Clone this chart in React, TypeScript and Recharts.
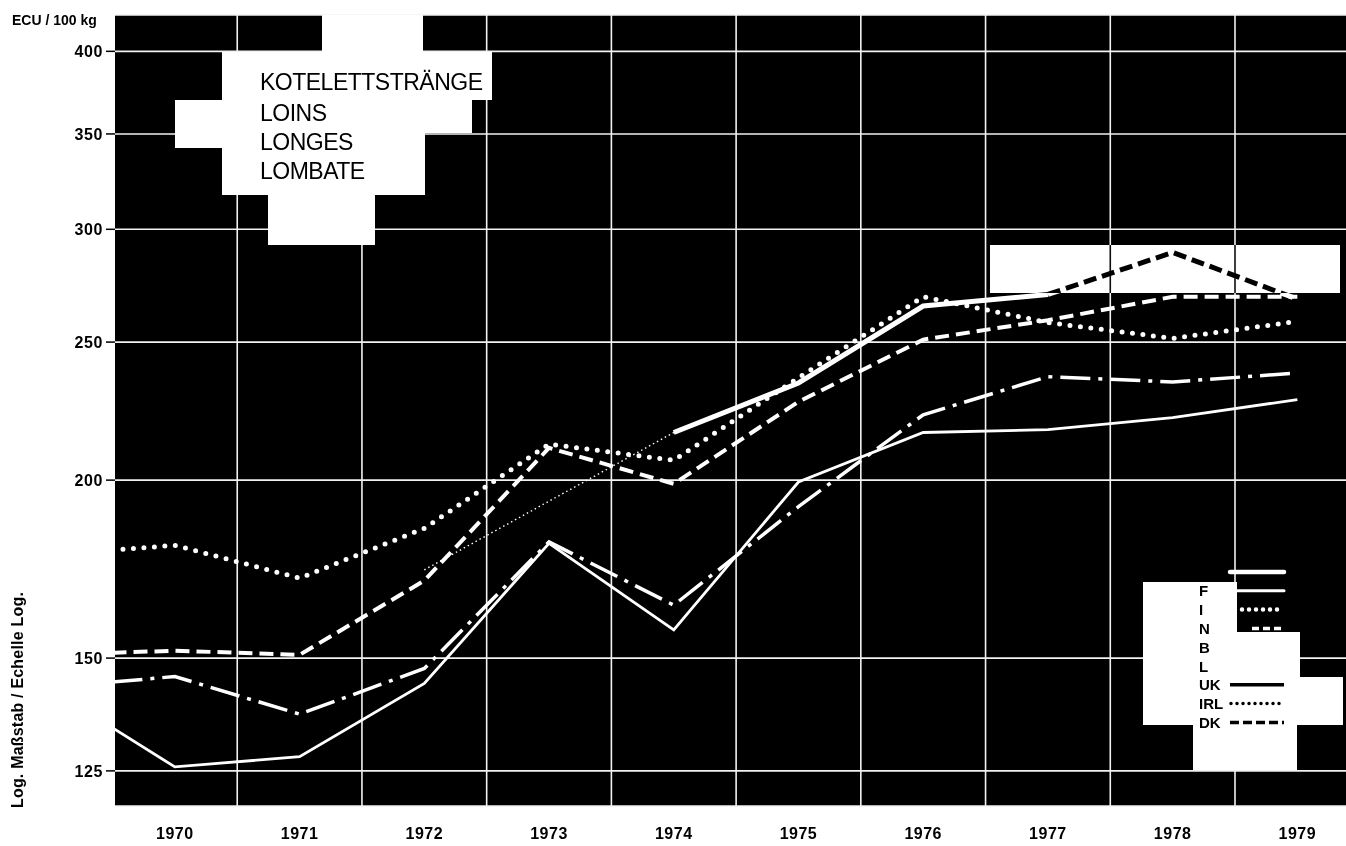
import React from 'react';
import { LineChart, Line, XAxis, YAxis, CartesianGrid } from 'recharts';

// years (first entry = value at the left edge of the frame)
const years = [1969.5, 1970, 1971, 1972, 1973, 1974, 1975, 1976, 1977, 1978, 1979];
const tickYears = [1970, 1971, 1972, 1973, 1974, 1975, 1976, 1977, 1978, 1979];
const gridYears = [1970.5, 1971.5, 1972.5, 1973.5, 1974.5, 1975.5, 1976.5, 1977.5, 1978.5];
const yTicks = [125, 150, 200, 250, 300, 350, 400];

// ECU / 100 kg
const valuesD = [null, null, null, 173, null, 216, 234, 265, 270, null, null];
const valuesDK = [null, null, null, null, null, null, null, null, 270, 289, 268];
const valuesF = [134, 125.8, 127.9, 144, 180.6, 157, 199.4, 216, 217, 221.3, 227.8];
const valuesI = [178.6, 180, 170.7, 185, 212, 206.5, 236, 269, 258, 251.5, 258.5];
const valuesN = [151.3, 151.8, 150.8, 170, 210.7, 198.8, 227, 251, 259, 269, 269];
const valuesB = [144.3, 145.6, 137, 147.5, 181, 163.4, 191.6, 222.3, 236.4, 234.4, 237.8];

const legendLabels = ['', 'F', 'I', 'N', 'B', 'L', 'UK', 'IRL', 'DK'];
const titleLines = ['KOTELETTSTRÄNGE', 'LOINS', 'LONGES', 'LOMBATE'];

const data = years.map((year, i) => ({
  year,
  D: valuesD[i],
  DK: valuesDK[i],
  F: valuesF[i],
  I: valuesI[i],
  N: valuesN[i],
  B: valuesB[i],
}));

const FONT = '"Liberation Sans", Arial, Helvetica, sans-serif';

// white patches of the scan (x1, y1, x2, y2)
const titleBlob = [
  [322, 15, 423, 52],
  [222, 52, 492, 100],
  [175, 100, 472, 133],
  [175, 133, 425, 148],
  [222, 148, 425, 195],
  [268, 195, 375, 245],
];
const legendBlob = [
  [1143, 582, 1237, 725],
  [1237, 632, 1300, 677],
  [1143, 677, 1343, 725],
  [1193, 725, 1297, 770],
];

// legend line samples: colour, width, dash, start x
const legendSamples = [
  { color: '#fff', w: 4.5, dash: undefined, x0: 1230, cap: 'round' },
  { color: '#fff', w: 3, dash: undefined, x0: 1237, cap: 'round' },
  { color: '#fff', w: 4.5, dash: '0 7', x0: 1242, cap: 'round' },
  { color: '#fff', w: 3.5, dash: '7 4', x0: 1252, cap: 'butt' },
  null,
  null,
  { color: '#000', w: 3.5, dash: undefined, x0: 1230, cap: 'butt' },
  { color: '#000', w: 3.5, dash: '0 6', x0: 1231, cap: 'round' },
  { color: '#000', w: 3.5, dash: '9 4', x0: 1230, cap: 'butt' },
];

const App: React.FC = () => {
  const rowY = (i: number) => 572 + i * 18.8;

  return (
    <div style={{ position: 'absolute', left: 0, top: 0, width: 1346, height: 846, overflow: 'hidden', background: '#fff', fontFamily: FONT }}>
      <LineChart width={1346} height={846} data={data} margin={{ top: 15, right: 0, left: 0, bottom: 0 }}>
        <CartesianGrid fill="#000" stroke="#f2f2f2" strokeWidth={1.6} verticalValues={gridYears} />
        <XAxis
          dataKey="year"
          type="number"
          domain={[1969.52, 1979.39]}
          allowDataOverflow
          ticks={tickYears}
          interval={0}
          height={40}
          axisLine={false}
          tickLine={false}
          tickSize={0}
          tickMargin={22}
          tick={{ fill: '#000', fontSize: 16, fontWeight: 700, fontFamily: FONT, letterSpacing: 0.5 }}
        />
        <YAxis
          type="number"
          scale="log"
          domain={[118.1, 424.2]}
          allowDataOverflow
          ticks={yTicks}
          interval={0}
          width={115}
          axisLine={false}
          tickLine={{ stroke: '#000', strokeWidth: 1.5 }}
          tickSize={9}
          tickMargin={3}
          tick={{ fill: '#000', fontSize: 16, fontWeight: 700, fontFamily: FONT, letterSpacing: 0.6 }}
        />
        <Line type="linear" dataKey="B" stroke="#fff" strokeWidth={3.5} strokeDasharray="30 8 4 8" dot={false} activeDot={false} isAnimationActive={false} />
        <Line type="linear" dataKey="F" stroke="#fff" strokeWidth={2.8} dot={false} activeDot={false} isAnimationActive={false} />
        <Line type="linear" dataKey="N" stroke="#fff" strokeWidth={4} strokeDasharray="14 7" dot={false} activeDot={false} isAnimationActive={false} />
        <Line type="linear" dataKey="I" stroke="#fff" strokeWidth={5} strokeDasharray="0 10.5" strokeLinecap="round" dot={false} activeDot={false} isAnimationActive={false} />
        <Line type="linear" dataKey="D" connectNulls stroke="#fff" strokeWidth={1.4} strokeDasharray="1.5 3" dot={false} activeDot={false} isAnimationActive={false} />
        <Line type="linear" dataKey="D" stroke="#fff" strokeWidth={5} dot={false} activeDot={false} isAnimationActive={false} />
        <Line type="linear" dataKey="DK" stroke="#fff" strokeWidth={5} strokeDasharray="13 6" dot={false} activeDot={false} isAnimationActive={false} />
      </LineChart>

      <svg width={1346} height={846} style={{ position: 'absolute', left: 0, top: 0, pointerEvents: 'none' }}>
        {titleBlob.concat(legendBlob).map(([x1, y1, x2, y2], i) => (
          <rect key={`blob-${i}`} x={x1} y={y1} width={x2 - x1} height={y2 - y1} fill="#fff" />
        ))}
        {titleLines.map((t, i) => (
          <text key={t} x={260} y={[90, 121, 150, 178.5][i]} fontSize={23} letterSpacing={-0.5} fill="#000" fontFamily={FONT}>
            {t}
          </text>
        ))}
        <text x={12} y={25} fontSize={14} fontWeight={700} fill="#000" fontFamily={FONT}>
          ECU / 100 kg
        </text>
        <text x={23} y={700} transform="rotate(-90 23 700)" textAnchor="middle" fontSize={16} fontWeight={700} letterSpacing={0.2} fill="#000" fontFamily={FONT}>
          Log. Maßstab / Echelle Log.
        </text>
        {legendLabels.map((label, i) => (
          <g key={`leg-${i}`}>
            {label ? (
              <text x={1199} y={rowY(i) + 5.5} fontSize={15} fontWeight={700} fill="#000" fontFamily={FONT}>
                {label}
              </text>
            ) : null}
            {legendSamples[i] ? (
              <line
                x1={legendSamples[i]!.x0}
                x2={1284}
                y1={rowY(i)}
                y2={rowY(i)}
                stroke={legendSamples[i]!.color}
                strokeWidth={legendSamples[i]!.w}
                strokeDasharray={legendSamples[i]!.dash}
                strokeLinecap={legendSamples[i]!.cap as any}
              />
            ) : null}
          </g>
        ))}
      </svg>

      {/* inverted patch: white paper where the lines show black */}
      <div style={{ position: 'absolute', left: 990, top: 245, width: 350, height: 48, background: '#fff', mixBlendMode: 'difference', pointerEvents: 'none' }} />
    </div>
  );
};

export default App;
